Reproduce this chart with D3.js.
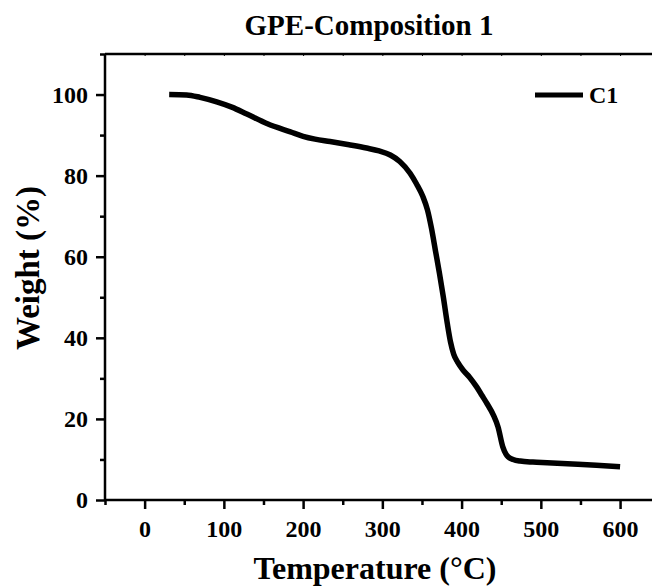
<!DOCTYPE html>
<html><head><meta charset="utf-8">
<script src="https://cdn.jsdelivr.net/npm/d3@7"></script>
<style>body{margin:0;background:#fff}svg{display:block}text{font-family:"Liberation Serif","Times New Roman",serif;font-weight:bold;fill:#000}</style>
</head><body><svg id="c" width="652" height="587"></svg>
<script>
const temperature = [31, 53, 70, 91, 110, 129, 155, 184, 200, 215, 234, 258, 280, 296, 310, 322, 335, 343, 351, 357, 362, 367, 372, 377, 382, 386, 390, 395, 402, 410, 419, 426, 432, 440, 446, 452, 456, 459, 465, 474, 490, 508, 540, 570, 600];
const weight =      [100, 99.9, 99.3, 98.2, 96.9, 95.2, 92.8, 90.8, 89.7, 89.0, 88.4, 87.6, 86.8, 86.1, 85.1, 83.5, 80.6, 78.0, 74.9, 71.5, 67.0, 61.5, 56.0, 50.0, 43.5, 39.0, 36.0, 34.0, 32.0, 30.3, 27.9, 25.7, 23.8, 21.0, 18.0, 13.1, 11.3, 10.6, 10.0, 9.6, 9.35, 9.2, 8.9, 8.6, 8.2];
const xTicks = [0, 100, 200, 300, 400, 500, 600];
const yTicks = [0, 20, 40, 60, 80, 100];
const xMinor = [-50, 50, 150, 250, 350, 450, 550, 650];
const yMinor = [10, 30, 50, 70, 90, 110];
const seriesName = "C1";
const title = "GPE-Composition 1";

const svg = d3.select("#c");
const x = d3.scaleLinear().domain([-50, 650]).range([105, 659.7]);
const y = d3.scaleLinear().domain([0, 110]).range([500, 54]);

// frame top
svg.append("line").attr("x1",105).attr("x2",660).attr("y1",54).attr("y2",54).attr("stroke","#000").attr("stroke-width",2.5);
const topAx = svg.append("g").attr("transform","translate(0,54)");
topAx.call(d3.axisTop(x).tickValues(xTicks.concat(xMinor)).tickSize(-2).tickFormat(""));
topAx.select(".domain").remove();
topAx.selectAll("line").attr("stroke-width",1);

// bottom axis
const gx = svg.append("g").attr("transform","translate(0,500)");
gx.call(d3.axisBottom(x).tickValues(xTicks).tickSize(9).tickPadding(11).tickFormat(d3.format("d")));
gx.select(".domain").attr("d","M105,0H660").attr("stroke-width",2.5);
gx.selectAll(".tick line").attr("stroke-width",2.5);
gx.selectAll("text").attr("font-size",24).attr("font-family","Liberation Serif").attr("font-weight","bold");
const gxm = svg.append("g").attr("transform","translate(0,500)");
gxm.call(d3.axisBottom(x).tickValues(xMinor).tickSize(5).tickFormat(""));
gxm.select(".domain").remove();
gxm.selectAll("line").attr("stroke-width",2.5);

// left axis
const gy = svg.append("g").attr("transform","translate(105,0)");
gy.call(d3.axisLeft(y).tickValues(yTicks).tickSize(9).tickPadding(8).tickFormat(d3.format("d")));
gy.select(".domain").attr("d","M0,500V54").attr("stroke-width",2.5);
gy.selectAll(".tick line").attr("stroke-width",2.5);
gy.selectAll("text").attr("font-size",24).attr("font-family","Liberation Serif").attr("font-weight","bold");
const gym = svg.append("g").attr("transform","translate(105,0)");
gym.call(d3.axisLeft(y).tickValues(yMinor).tickSize(5).tickFormat(""));
gym.select(".domain").remove();
gym.selectAll("line").attr("stroke-width",2.5);

// curve
const pts = temperature.map((t,i)=>[t, weight[i]]);
svg.append("path").datum(pts)
  .attr("d", d3.line().x(d=>x(d[0])).y(d=>y(d[1])).curve(d3.curveMonotoneX))
  .attr("fill","none").attr("stroke","#000").attr("stroke-width",5.5).attr("stroke-linejoin","round");

// legend
svg.append("line").attr("x1",535).attr("x2",583).attr("y1",95).attr("y2",95).attr("stroke","#000").attr("stroke-width",5);
svg.append("text").attr("x",589).attr("y",103).attr("font-size",24).text(seriesName);

// title & labels
svg.append("text").attr("x",369).attr("y",35).attr("text-anchor","middle").attr("font-size",29).text(title);
svg.append("text").attr("x",375).attr("y",579).attr("text-anchor","middle").attr("font-size",32).text("Temperature (°C)");
svg.append("text").attr("transform","translate(39,268) rotate(-90)").attr("text-anchor","middle").attr("font-size",33).text("Weight (%)");
</script></body></html>
